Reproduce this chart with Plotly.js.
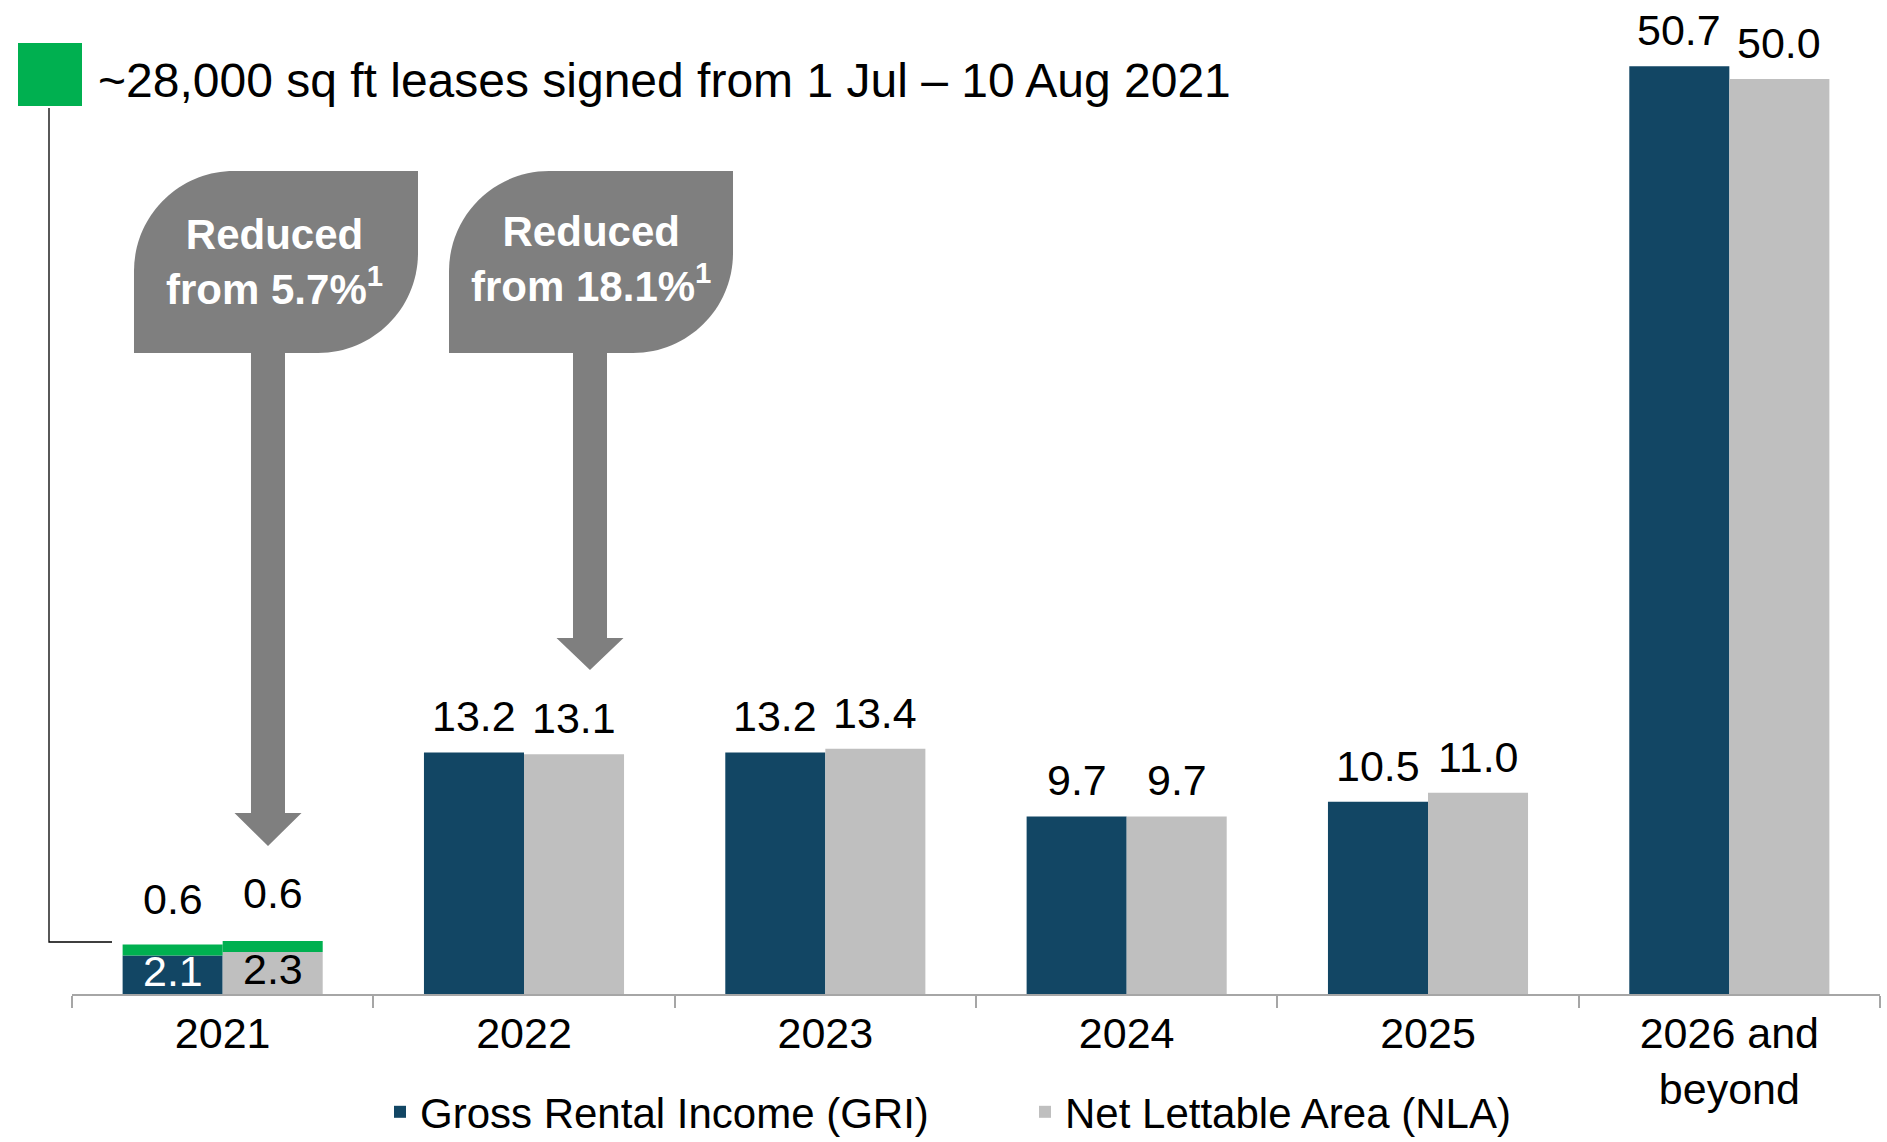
<!DOCTYPE html>
<html>
<head>
<meta charset="utf-8">
<script src="https://cdn.plot.ly/plotly-3.0.1.min.js"></script>
<style>html,body{margin:0;padding:0;background:#fff;}#chart{width:1887px;height:1142px;}</style>
</head>
<body>
<div id="chart"></div>
<script>
// ---- data ----
const categories = ['2021', '2022', '2023', '2024', '2025', '2026 and<br>beyond'];
const griValues = [2.1, 13.2, 13.2, 9.7, 10.5, 50.7];
const nlaValues = [2.3, 13.1, 13.4, 9.7, 11.0, 50.0];
const leasedCategories = ['2021'];
const griLeased = [0.6];
const nlaLeased = [0.6];
const seriesNames = ['Gross Rental Income (GRI)', 'Net Lettable Area (NLA)'];
const headline = '~28,000 sq ft leases signed from 1 Jul \u2013 10 Aug 2021';
const callouts = ['Reduced<br>from 5.7%<sup>1</sup>', 'Reduced<br>from 18.1%<sup>1</sup>'];

// ---- layout geometry (pixels) ----
const W = 1887, H = 1142;
const M = {l: 72, r: 7, t: 10, b: 148};
const PW = W - M.l - M.r, PH = H - M.t - M.b;
const X = px => (px - M.l) / PW;
const Y = py => (H - M.b - py) / PH;
const yMax = PH / 18.3;
const catPx = PW / categories.length;

const DARK = '#124664', GREY = '#BFBFBF', GREEN = '#00B050', CALL = '#7F7F7F';
const SANS = '"Liberation Sans", Arial, sans-serif';
const BW = 0.332;
const half = BW / 2 * catPx;
const VAL_SIZE = 43;

const traces = [
  {type: 'bar', name: seriesNames[0], x: categories, y: griValues, width: BW, offset: -BW,
   marker: {color: DARK}, hoverinfo: 'skip'},
  {type: 'bar', name: seriesNames[1], x: categories, y: nlaValues, width: BW, offset: 0,
   marker: {color: GREY}, hoverinfo: 'skip'},
  {type: 'bar', name: 'GRI leased', x: leasedCategories, y: griLeased, base: [griValues[0]], width: BW, offset: -BW,
   marker: {color: GREEN}, showlegend: false, hoverinfo: 'skip'},
  {type: 'bar', name: 'NLA leased', x: leasedCategories, y: nlaLeased, base: [nlaValues[0]], width: BW, offset: 0,
   marker: {color: GREEN}, showlegend: false, hoverinfo: 'skip'}
];

// leaf-shaped callout path (pixels -> paper)
function leaf(x0, y0, x1, y1, r) {
  const k = 0.5523 * r;
  const p = (x, y) => X(x).toFixed(5) + ',' + Y(y).toFixed(5);
  return 'M' + p(x0, y1) +
    ' L' + p(x0, y0 + r) +
    ' C' + p(x0, y0 + r - k) + ' ' + p(x0 + r - k, y0) + ' ' + p(x0 + r, y0) +
    ' L' + p(x1, y0) +
    ' L' + p(x1, y1 - r) +
    ' C' + p(x1, y1 - r + k) + ' ' + p(x1 - r + k, y1) + ' ' + p(x1 - r, y1) +
    ' Z';
}
function arrow(cx, top, stemW, headBase, headW, tip) {
  const p = (x, y) => X(x).toFixed(5) + ',' + Y(y).toFixed(5);
  return 'M' + p(cx - stemW / 2, top) + ' L' + p(cx + stemW / 2, top) +
    ' L' + p(cx + stemW / 2, headBase) + ' L' + p(cx + headW / 2, headBase) +
    ' L' + p(cx, tip) + ' L' + p(cx - headW / 2, headBase) +
    ' L' + p(cx - stemW / 2, headBase) + ' Z';
}

const shapes = [
  {type: 'path', xref: 'paper', yref: 'paper', path: leaf(134, 171, 418, 353, 100), fillcolor: CALL, line: {width: 0}},
  {type: 'path', xref: 'paper', yref: 'paper', path: leaf(449, 171, 733, 353, 100), fillcolor: CALL, line: {width: 0}},
  {type: 'path', xref: 'paper', yref: 'paper', path: arrow(268, 352, 34, 813, 67, 846), fillcolor: CALL, line: {width: 0}},
  {type: 'path', xref: 'paper', yref: 'paper', path: arrow(590, 352, 34, 638, 67, 670), fillcolor: CALL, line: {width: 0}},
  {type: 'rect', xref: 'paper', yref: 'paper', x0: X(18), x1: X(82), y0: Y(106), y1: Y(43), fillcolor: GREEN, line: {width: 0}},
  {type: 'path', xref: 'paper', yref: 'paper',
   path: 'M' + X(49) + ',' + Y(108) + ' L' + X(49) + ',' + Y(942) + ' L' + X(112) + ',' + Y(942),
   line: {color: '#000000', width: 1.3}}
];

const annotations = [
  {xref: 'paper', yref: 'paper', x: X(96), y: Y(81), xanchor: 'left', yanchor: 'middle', showarrow: false,
   text: headline, font: {family: SANS, size: 48, color: '#000000'}},
  {xref: 'paper', yref: 'paper', x: X(274), y: Y(262), xanchor: 'center', yanchor: 'middle', showarrow: false,
   text: callouts[0], align: 'center', font: {family: SANS, size: 42, color: '#ffffff', weight: 'bold'}},
  {xref: 'paper', yref: 'paper', x: X(591), y: Y(259), xanchor: 'center', yanchor: 'middle', showarrow: false,
   text: callouts[1], align: 'center', font: {family: SANS, size: 42, color: '#ffffff', weight: 'bold'}}
];

// value labels, placed through the data scales (x = category index)
categories.forEach((c, i) => {
  const first = i === 0;
  annotations.push({
    xref: 'x', yref: 'y', x: i, y: first ? griValues[i] / 2 : griValues[i], xshift: -half,
    yshift: first ? 4 : 36, xanchor: 'center', yanchor: 'middle', showarrow: false,
    text: griValues[i].toFixed(1),
    font: {family: SANS, size: VAL_SIZE, color: first ? '#ffffff' : '#000000'}
  });
  annotations.push({
    xref: 'x', yref: 'y', x: i, y: first ? nlaValues[i] / 2 : nlaValues[i], xshift: half,
    yshift: first ? 4 : 36, xanchor: 'center', yanchor: 'middle', showarrow: false,
    text: nlaValues[i].toFixed(1),
    font: {family: SANS, size: VAL_SIZE, color: '#000000'}
  });
});
leasedCategories.forEach((c, i) => {
  const idx = categories.indexOf(c);
  annotations.push({
    xref: 'x', yref: 'y', x: idx, y: griValues[idx] + griLeased[i], xshift: -half, yshift: 46,
    xanchor: 'center', yanchor: 'middle', showarrow: false, text: griLeased[i].toFixed(1),
    font: {family: SANS, size: VAL_SIZE, color: '#000000'}
  });
  annotations.push({
    xref: 'x', yref: 'y', x: idx, y: nlaValues[idx] + nlaLeased[i], xshift: half, yshift: 48,
    xanchor: 'center', yanchor: 'middle', showarrow: false, text: nlaLeased[i].toFixed(1),
    font: {family: SANS, size: VAL_SIZE, color: '#000000'}
  });
});

const layout = {
  width: W, height: H,
  margin: {l: M.l, r: M.r, t: M.t, b: M.b, autoexpand: false},
  paper_bgcolor: '#ffffff', plot_bgcolor: '#ffffff',
  barmode: 'overlay',
  showlegend: true,
  legend: {orientation: 'h', x: X(380), xanchor: 'left', y: Y(1112), yanchor: 'middle',
           entrywidth: 600, entrywidthmode: 'pixels',
           font: {family: SANS, size: 42, color: '#000000'}, bgcolor: 'rgba(0,0,0,0)'},
  xaxis: {type: 'category', showline: true, linecolor: '#A6A6A6', linewidth: 2,
          ticks: 'outside', tickson: 'boundaries', ticklen: 12, tickcolor: '#A6A6A6', tickwidth: 2,
          tickfont: {family: SANS, size: 43, color: '#000000'}, showgrid: false, zeroline: false,
          range: [-0.5, 5.5], fixedrange: true},
  yaxis: {visible: false, range: [0, yMax], showgrid: false, zeroline: false, fixedrange: true},
  shapes: shapes, annotations: annotations,
  font: {family: SANS}
};

Plotly.newPlot('chart', traces, layout, {displayModeBar: false, staticPlot: true});
</script>
</body>
</html>
